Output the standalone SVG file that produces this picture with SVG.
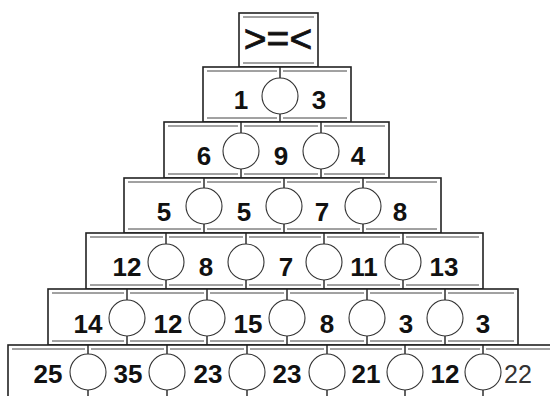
<svg xmlns="http://www.w3.org/2000/svg" width="550" height="396" viewBox="0 0 550 396">
<style>
.box{fill:#fff;stroke:#222;stroke-width:1.6}
.in{stroke:#444;stroke-width:1;fill:none}
.tk{stroke:#222;stroke-width:1.4}
.c{fill:#fff;stroke:#333;stroke-width:1.1}
.n{font-family:"Liberation Sans",Arial,sans-serif;font-weight:bold;font-size:26px;fill:#111;text-anchor:middle}
.n2{font-family:"Liberation Sans",Arial,sans-serif;font-size:25px;fill:#333;text-anchor:middle}
.sym{font-family:"Liberation Sans",Arial,sans-serif;font-size:39px;fill:#111;stroke:#111;stroke-width:0.8;text-anchor:middle}
</style>
<rect width="550" height="396" fill="#fff"/>
<g id="top">
<rect class="box" x="239" y="13" width="79" height="54"/>
<path class="in" d="M243 17H314M243 63H314"/>
<text class="sym" x="278" y="52">&gt;=&lt;</text>
</g>
<g id="row1">
<rect class="box" x="203" y="67" width="148" height="55"/>
<path class="in" d="M207 71H277M283 71H347M207 118H277M283 118H347"/>
<text class="n" x="241" y="109">1</text>
<text class="n" x="319" y="109">3</text>
</g>
<g id="row2">
<rect class="box" x="164" y="122" width="225" height="56"/>
<path class="in" d="M168 126H238M244 126H318M324 126H385M168 174H238M244 174H318M324 174H385"/>
<text class="n" x="204" y="165">6</text>
<text class="n" x="281" y="165">9</text>
<text class="n" x="358" y="165">4</text>
</g>
<g id="row3">
<rect class="box" x="124" y="178" width="317" height="55"/>
<path class="in" d="M128 182H201M207 182H281M287 182H360M366 182H437M128 229H201M207 229H281M287 229H360M366 229H437"/>
<text class="n" x="164" y="221">5</text>
<text class="n" x="244" y="221">5</text>
<text class="n" x="322" y="221">7</text>
<text class="n" x="400" y="221">8</text>
</g>
<g id="row4">
<rect class="box" x="86" y="233" width="397" height="56"/>
<path class="in" d="M90 237H163M169 237H243M249 237H321M327 237H400M406 237H479M90 285H163M169 285H243M249 285H321M327 285H400M406 285H479"/>
<text class="n" x="127" y="276">12</text>
<text class="n" x="206" y="276">8</text>
<text class="n" x="286" y="276">7</text>
<text class="n" x="364" y="276">11</text>
<text class="n" x="444" y="276">13</text>
</g>
<g id="row5">
<rect class="box" x="48" y="289" width="470" height="56"/>
<path class="in" d="M52 293H124M130 293H204M210 293H284M290 293H364M370 293H442M448 293H514M52 341H124M130 341H204M210 341H284M290 341H364M370 341H442M448 341H514"/>
<text class="n" x="88" y="333">14</text>
<text class="n" x="168" y="333">12</text>
<text class="n" x="248" y="333">15</text>
<text class="n" x="327" y="333">8</text>
<text class="n" x="406" y="333">3</text>
<text class="n" x="483" y="333">3</text>
</g>
<g id="row6">
<rect class="box" x="8" y="345" width="545" height="60"/>
<path class="in" d="M12 349H85M91 349H164M170 349H244M250 349H324M330 349H402M408 349H480M486 349H550"/>
<text class="n" x="48" y="383">25</text>
<text class="n" x="128" y="383">35</text>
<text class="n" x="208" y="383">23</text>
<text class="n" x="287" y="383">23</text>
<text class="n" x="366" y="383">21</text>
<text class="n" x="445" y="383">12</text>
<text class="n2" x="518" y="383">22</text>
</g>
<g id="connectors">
<path class="tk" d="M280 67V78M280 114V122
M241 122V133M241 169V178M321 122V133M321 169V178
M204 178V188M204 224V233M284 178V188M284 224V233M363 178V188M363 224V233
M166 233V244M166 280V289M246 233V244M246 280V289M324 233V244M324 280V289M403 233V244M403 280V289
M127 289V300M127 336V345M207 289V300M207 336V345M287 289V300M287 336V345M367 289V300M367 336V345M445 289V300M445 336V345
M88 345V354M88 390V396M167 345V354M167 390V396M247 345V354M247 390V396M327 345V354M327 390V396M405 345V354M405 390V396M483 345V354M483 390V396"/>
<circle class="c" cx="280" cy="96" r="18"/>
<circle class="c" cx="241" cy="151" r="18"/>
<circle class="c" cx="321" cy="151" r="18"/>
<circle class="c" cx="204" cy="206" r="18"/>
<circle class="c" cx="284" cy="206" r="18"/>
<circle class="c" cx="363" cy="206" r="18"/>
<circle class="c" cx="166" cy="262" r="18"/>
<circle class="c" cx="246" cy="262" r="18"/>
<circle class="c" cx="324" cy="262" r="18"/>
<circle class="c" cx="403" cy="262" r="18"/>
<circle class="c" cx="127" cy="318" r="18"/>
<circle class="c" cx="207" cy="318" r="18"/>
<circle class="c" cx="287" cy="318" r="18"/>
<circle class="c" cx="367" cy="318" r="18"/>
<circle class="c" cx="445" cy="318" r="18"/>
<circle class="c" cx="88" cy="372" r="18"/>
<circle class="c" cx="167" cy="372" r="18"/>
<circle class="c" cx="247" cy="372" r="18"/>
<circle class="c" cx="327" cy="372" r="18"/>
<circle class="c" cx="405" cy="372" r="18"/>
<circle class="c" cx="483" cy="372" r="18"/>
</g>
</svg>
